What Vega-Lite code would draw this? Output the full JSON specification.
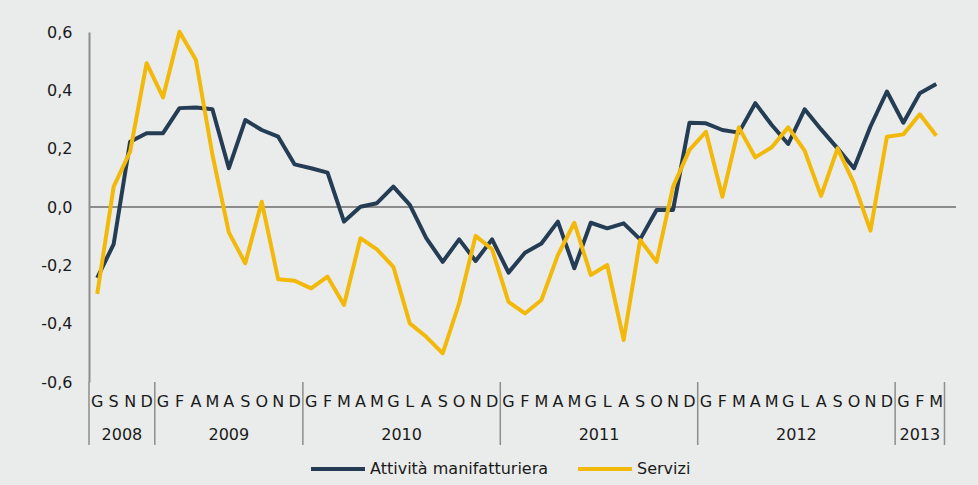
{
  "$schema": "https://vega.github.io/schema/vega-lite/v6.json",
  "autosize": "none",
  "width": 867,
  "height": 350,
  "padding": {"left": 89, "top": 32, "right": 22, "bottom": 103},
  "background": "#EAECEB",
  "config": {
    "view": {"stroke": null},
    "font": "DejaVu Sans",
    "text": {"font": "DejaVu Sans"}
  },
  "datasets": {
    "main": [
      {"i": 0, "m": "G", "Attività manifatturiera": -0.243, "Servizi": -0.298},
      {"i": 1, "m": "S", "Attività manifatturiera": -0.127, "Servizi": 0.07},
      {"i": 2, "m": "N", "Attività manifatturiera": 0.224, "Servizi": 0.19},
      {"i": 3, "m": "D", "Attività manifatturiera": 0.253, "Servizi": 0.493},
      {"i": 4, "m": "G", "Attività manifatturiera": 0.253, "Servizi": 0.376},
      {"i": 5, "m": "F", "Attività manifatturiera": 0.339, "Servizi": 0.601},
      {"i": 6, "m": "A", "Attività manifatturiera": 0.341, "Servizi": 0.504},
      {"i": 7, "m": "M", "Attività manifatturiera": 0.335, "Servizi": 0.18},
      {"i": 8, "m": "A", "Attività manifatturiera": 0.133, "Servizi": -0.087},
      {"i": 9, "m": "S", "Attività manifatturiera": 0.298, "Servizi": -0.193},
      {"i": 10, "m": "O", "Attività manifatturiera": 0.264, "Servizi": 0.018},
      {"i": 11, "m": "N", "Attività manifatturiera": 0.241, "Servizi": -0.248},
      {"i": 12, "m": "D", "Attività manifatturiera": 0.146, "Servizi": -0.253},
      {"i": 13, "m": "G", "Attività manifatturiera": 0.133, "Servizi": -0.279},
      {"i": 14, "m": "F", "Attività manifatturiera": 0.118, "Servizi": -0.239},
      {"i": 15, "m": "M", "Attività manifatturiera": -0.05, "Servizi": -0.336},
      {"i": 16, "m": "A", "Attività manifatturiera": 0.001, "Servizi": -0.107},
      {"i": 17, "m": "M", "Attività manifatturiera": 0.013, "Servizi": -0.145},
      {"i": 18, "m": "G", "Attività manifatturiera": 0.07, "Servizi": -0.205},
      {"i": 19, "m": "L", "Attività manifatturiera": 0.007, "Servizi": -0.399},
      {"i": 20, "m": "A", "Attività manifatturiera": -0.107, "Servizi": -0.445},
      {"i": 21, "m": "S", "Attività manifatturiera": -0.188, "Servizi": -0.502},
      {"i": 22, "m": "O", "Attività manifatturiera": -0.111, "Servizi": -0.33},
      {"i": 23, "m": "N", "Attività manifatturiera": -0.185, "Servizi": -0.099},
      {"i": 24, "m": "D", "Attività manifatturiera": -0.111, "Servizi": -0.145},
      {"i": 25, "m": "G", "Attività manifatturiera": -0.225, "Servizi": -0.325},
      {"i": 26, "m": "F", "Attività manifatturiera": -0.157, "Servizi": -0.365},
      {"i": 27, "m": "M", "Attività manifatturiera": -0.125, "Servizi": -0.319},
      {"i": 28, "m": "A", "Attività manifatturiera": -0.05, "Servizi": -0.165},
      {"i": 29, "m": "M", "Attività manifatturiera": -0.21, "Servizi": -0.054},
      {"i": 30, "m": "G", "Attività manifatturiera": -0.054, "Servizi": -0.233},
      {"i": 31, "m": "L", "Attività manifatturiera": -0.073, "Servizi": -0.199},
      {"i": 32, "m": "A", "Attività manifatturiera": -0.056, "Servizi": -0.456},
      {"i": 33, "m": "S", "Attività manifatturiera": -0.111, "Servizi": -0.113},
      {"i": 34, "m": "O", "Attività manifatturiera": -0.01, "Servizi": -0.188},
      {"i": 35, "m": "N", "Attività manifatturiera": -0.01, "Servizi": 0.07},
      {"i": 36, "m": "D", "Attività manifatturiera": 0.289, "Servizi": 0.196},
      {"i": 37, "m": "G", "Attività manifatturiera": 0.287, "Servizi": 0.258},
      {"i": 38, "m": "F", "Attività manifatturiera": 0.264, "Servizi": 0.035},
      {"i": 39, "m": "M", "Attività manifatturiera": 0.255, "Servizi": 0.273},
      {"i": 40, "m": "A", "Attività manifatturiera": 0.356, "Servizi": 0.17},
      {"i": 41, "m": "M", "Attività manifatturiera": 0.281, "Servizi": 0.205},
      {"i": 42, "m": "G", "Attività manifatturiera": 0.216, "Servizi": 0.273},
      {"i": 43, "m": "L", "Attività manifatturiera": 0.335, "Servizi": 0.193},
      {"i": 44, "m": "A", "Attività manifatturiera": 0.266, "Servizi": 0.038},
      {"i": 45, "m": "S", "Attività manifatturiera": 0.201, "Servizi": 0.201},
      {"i": 46, "m": "O", "Attività manifatturiera": 0.133, "Servizi": 0.081},
      {"i": 47, "m": "N", "Attività manifatturiera": 0.276, "Servizi": -0.081},
      {"i": 48, "m": "D", "Attività manifatturiera": 0.396, "Servizi": 0.241},
      {"i": 49, "m": "G", "Attività manifatturiera": 0.289, "Servizi": 0.249},
      {"i": 50, "m": "F", "Attività manifatturiera": 0.39, "Servizi": 0.318},
      {"i": 51, "m": "M", "Attività manifatturiera": 0.422, "Servizi": 0.244}
    ],
    "years": [
      {"c": 1.5, "year": "2008"},
      {"c": 8, "year": "2009"},
      {"c": 18.5, "year": "2010"},
      {"c": 30.5, "year": "2011"},
      {"c": 42.5, "year": "2012"},
      {"c": 50, "year": "2013"}
    ],
    "seps": [
      {"b": -0.5}, {"b": 3.5}, {"b": 12.5}, {"b": 24.5}, {"b": 36.5}, {"b": 48.5}, {"b": 51.5}
    ]
  },
  "layer": [
    {
      "data": {"values": [{"z": 0}]},
      "mark": {"type": "rule", "color": "#8C8C8C", "strokeWidth": 2},
      "encoding": {
        "y": {
          "field": "z", "type": "quantitative",
          "scale": {"domain": [-0.6, 0.6], "nice": false, "zero": false},
          "axis": {
            "values": [-0.6, -0.4, -0.2, 0, 0.2, 0.4, 0.6],
            "labelExpr": "replace(replace(format(datum.value, '.1f'), '.', ','), '\u2212', '-')",
            "ticks": false,
            "grid": false,
            "domainColor": "#8C8C8C",
            "domainWidth": 2,
            "labelPadding": 17,
            "labelFont": "DejaVu Sans",
            "labelFontSize": 16,
            "labelColor": "#1A1A1A",
            "title": null
          }
        }
      }
    },
    {
      "data": {"name": "main"},
      "transform": [{"fold": ["Attività manifatturiera", "Servizi"], "as": ["serie", "v"]}],
      "mark": {"type": "line", "strokeWidth": 4, "strokeJoin": "round", "clip": false},
      "encoding": {
        "x": {"field": "i", "type": "quantitative", "scale": {"domain": [-0.5, 52.2], "nice": false, "zero": false}, "axis": null},
        "y": {"field": "v", "type": "quantitative"},
        "color": {
          "field": "serie", "type": "nominal",
          "scale": {"domain": ["Attività manifatturiera", "Servizi"], "range": ["#253D54", "#F2B90A"]},
          "legend": {
            "orient": "none",
            "direction": "horizontal",
            "legendX": 220,
            "legendY": 408,
            "title": null,
            "symbolType": "stroke",
            "symbolSize": 2916,
            "symbolStrokeWidth": 4,
            "labelFont": "DejaVu Sans",
            "labelFontSize": 16,
            "labelColor": "#1A1A1A",
            "labelOffset": 3,
            "labelLimit": 400,
            "columnPadding": 21
          }
        }
      }
    },
    {
      "data": {"name": "main"},
      "mark": {"type": "text", "fontSize": 16, "color": "#1A1A1A", "baseline": "middle", "align": "center", "clip": false},
      "encoding": {
        "x": {"field": "i", "type": "quantitative"},
        "y": {"datum": -0.667},
        "text": {"field": "m"}
      }
    },
    {
      "data": {"name": "years"},
      "mark": {"type": "text", "fontSize": 16, "color": "#1A1A1A", "baseline": "middle", "align": "center", "clip": false},
      "encoding": {
        "x": {"field": "c", "type": "quantitative"},
        "y": {"datum": -0.78},
        "text": {"field": "year"}
      }
    },
    {
      "data": {"name": "seps"},
      "mark": {"type": "rule", "color": "#8C8C8C", "strokeWidth": 1.5, "clip": false},
      "encoding": {
        "x": {"field": "b", "type": "quantitative"},
        "y": {"datum": -0.6},
        "y2": {"datum": -0.816}
      }
    }
  ]
}
